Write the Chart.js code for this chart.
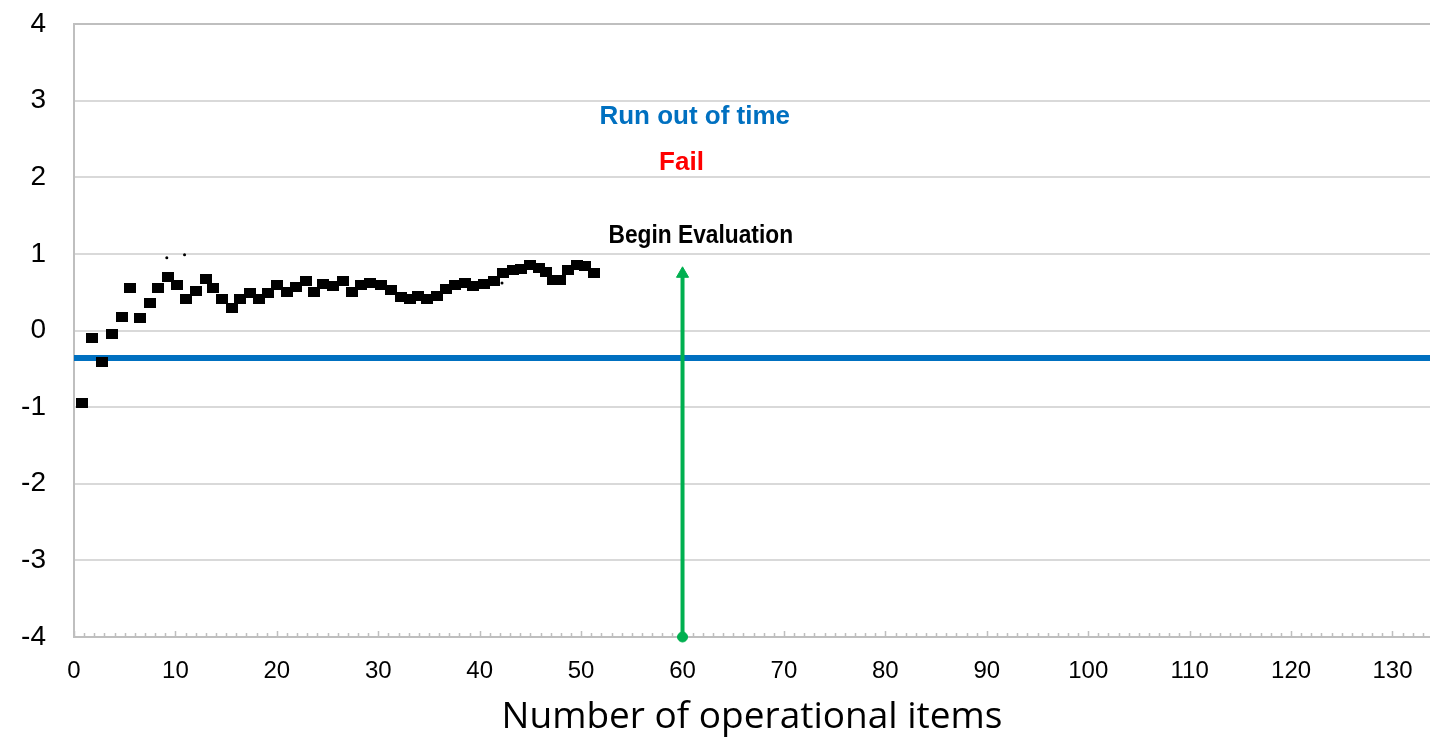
<!DOCTYPE html>
<html>
<head>
<meta charset="utf-8">
<script src="https://cdn.jsdelivr.net/npm/chart.js@4.4.1/dist/chart.umd.min.js"></script>
<style>
    html, body { margin: 0; padding: 0; background: #fff; }
    #wrap { width: 1430px; height: 741px; }
</style>
</head>
<body>
<div id="wrap"><canvas id="chart" width="1430" height="741"></canvas></div>
<script>
// estimate after each operational item
const itemX = [0.79, 1.78, 2.76, 3.75, 4.74, 5.53, 6.52, 7.50, 8.29, 9.28,
    10.17, 11.06, 12.05, 13.03, 13.72, 14.61, 15.60, 16.39, 17.37, 18.26,
    19.15, 20.04, 21.03, 21.92, 22.90, 23.69, 24.58, 25.57, 26.55, 27.44,
    28.33, 29.22, 30.30, 31.29, 32.28, 33.17, 33.96, 34.85, 35.83, 36.72,
    37.61, 38.60, 39.39, 40.38, 41.37, 42.25, 43.24, 44.03, 44.92, 45.80,
    46.50, 47.19, 47.88, 48.67, 49.56, 50.35, 51.24];
const estY = [-0.95, -0.10, -0.41, -0.05, 0.17, 0.55, 0.16, 0.36, 0.56, 0.70,
    0.59, 0.41, 0.51, 0.67, 0.55, 0.41, 0.30, 0.41, 0.49, 0.41,
    0.49, 0.60, 0.50, 0.57, 0.64, 0.50, 0.61, 0.58, 0.65, 0.50,
    0.59, 0.62, 0.60, 0.53, 0.44, 0.41, 0.45, 0.41, 0.45, 0.54,
    0.59, 0.62, 0.58, 0.61, 0.64, 0.75, 0.79, 0.80, 0.85, 0.82,
    0.76, 0.66, 0.66, 0.79, 0.86, 0.84, 0.75];

// tiny stray markers
const dotX = [9.15, 10.9, 42.2];
const dotY = [0.95, 0.99, 0.62];

// horizontal cut line
const cutScore = -0.36;

// begin evaluation arrow
const evalItem = 60;
const evalFrom = -4;
const evalTo = 0.74;

const xTicks = [0, 10, 20, 30, 40, 50, 60, 70, 80, 90, 100, 110, 120, 130];
const yTicks = [-4, -3, -2, -1, 0, 1, 2, 3, 4];
const xMax = 133.7;

const noteText = ['Run out of time', 'Fail', 'Begin Evaluation'];
const noteX = [61.2, 59.9, 61.8];
const noteY = [2.79, 2.19, 1.23];
const noteColor = ['#0070C0', '#FF0000', '#000000'];
const noteSize = [26, 26, 25];
const noteStretch = [1, 1, 0.91];   // narrow face for the last one

// 12x10 black square marker
const sq = document.createElement('canvas');
sq.width = 12; sq.height = 10;
sq.getContext('2d').fillRect(0, 0, 12, 10);

const minorTicks = {
    id: 'minorTicks',
    beforeDatasetsDraw(chart) {
        const x = chart.scales.x, ctx = chart.ctx, base = chart.chartArea.bottom;
        ctx.save();
        ctx.strokeStyle = '#bfbfbf';
        ctx.lineWidth = 1.5;
        for (let v = 0; v <= Math.floor(xMax); v++) {
            const px = Math.round(x.getPixelForValue(v)) + 0.5;
            const len = v % 10 === 0 ? 6 : 4;
            ctx.beginPath();
            ctx.moveTo(px, base);
            ctx.lineTo(px, base - len);
            ctx.stroke();
        }
        ctx.restore();
    }
};

const notes = {
    id: 'notes',
    afterDatasetsDraw(chart) {
        const { ctx, scales } = chart;
        noteText.forEach((t, i) => {
            ctx.save();
            ctx.textAlign = 'center';
            ctx.textBaseline = 'middle';
            ctx.font = `bold ${noteSize[i]}px "Liberation Sans", Arial, sans-serif`;
            ctx.fillStyle = noteColor[i];
            ctx.translate(scales.x.getPixelForValue(noteX[i]), scales.y.getPixelForValue(noteY[i]));
            ctx.scale(noteStretch[i], 1);
            ctx.fillText(t, 0, 0);
            ctx.restore();
        });
    }
};

new Chart(document.getElementById('chart').getContext('2d'), {
    type: 'scatter',
    data: {
        datasets: [
            {
                data: itemX.map((x, i) => ({ x, y: estY[i] })),
                pointStyle: sq, pointRadius: 6, order: 0, clip: false,
            },
            {
                data: dotX.map((x, i) => ({ x, y: dotY[i] })),
                pointStyle: 'circle', pointRadius: 1.5, backgroundColor: '#000', borderWidth: 0, order: 0,
            },
            {
                type: 'line',
                data: [{ x: evalItem, y: evalFrom }, { x: evalItem, y: evalTo }],
                borderColor: '#00B050', borderWidth: 4, backgroundColor: '#00B050',
                pointStyle: ['circle', 'triangle'], pointRadius: [5, 7], pointBorderWidth: 1,
                pointBorderColor: '#00B050', order: 1, clip: false,
            },
            {
                type: 'line',
                data: [{ x: 0, y: cutScore }, { x: xMax, y: cutScore }],
                borderColor: '#0070C0', borderWidth: 6, pointRadius: 0, order: 2,
            },
        ],
    },
    options: {
        responsive: false, animation: false,
        layout: { autoPadding: false, padding: { top: 24, right: 0, left: 0, bottom: 0 } },
        plugins: { legend: { display: false }, tooltip: { enabled: false } },
        scales: {
            x: {
                type: 'linear', min: 0, max: xMax,
                afterBuildTicks: (s) => { s.ticks = xTicks.map(v => ({ value: v })); },
                afterFit: (s) => { s.height = 104; s.paddingLeft = 0; s.paddingRight = 0; },
                grid: { drawOnChartArea: false, drawTicks: false },
                border: { color: '#bfbfbf', width: 2 },
                ticks: { color: '#000', padding: 20, maxRotation: 0, font: { family: '"Liberation Sans", Arial, sans-serif', size: 24 } },
                title: {
                    display: true, text: 'Number of operational items', color: '#000',
                    font: { family: '"Open Sans", sans-serif', size: 37, lineHeight: 1.2 },
                    padding: { top: 0, bottom: 1 },
                },
            },
            y: {
                min: -4, max: 4,
                afterBuildTicks: (s) => { s.ticks = yTicks.map(v => ({ value: v })); },
                afterFit: (s) => { s.width = 74; s.paddingTop = 0; s.paddingBottom = 0; },
                grid: {
                    color: (c) => c.tick && c.tick.value === 4 ? '#bfbfbf' : '#d9d9d9',
                    lineWidth: 2, drawTicks: false,
                },
                border: { color: '#bfbfbf', width: 2 },
                ticks: { color: '#000', padding: 28, font: { family: '"Liberation Sans", Arial, sans-serif', size: 28 } },
            },
        },
    },
    plugins: [minorTicks, notes],
});
</script>
</body>
</html>
